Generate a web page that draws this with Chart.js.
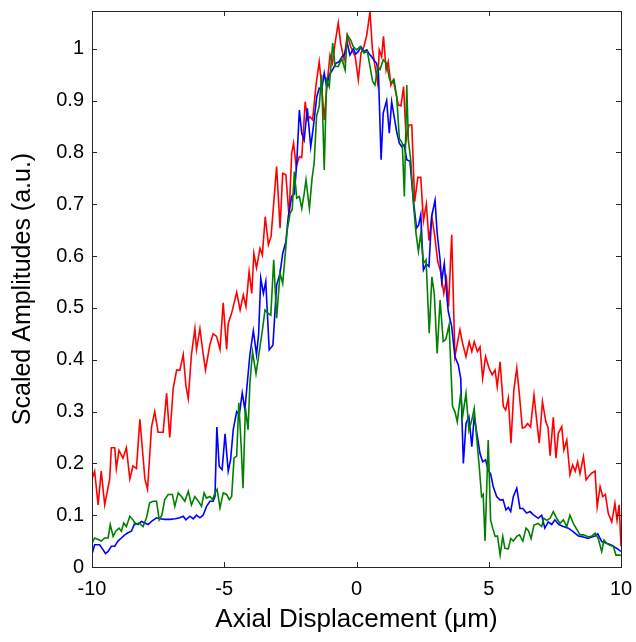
<!DOCTYPE html>
<html>
<head>
<meta charset="utf-8">
<script src="https://cdn.jsdelivr.net/npm/chart.js@4"></script>
<style>
  html, body { margin: 0; padding: 0; background: #fff; }
  #wrap { width: 636px; height: 642px; }
</style>
</head>
<body>
<div id="wrap"><canvas id="chart"></canvas></div>
<script>
var xTicks = [-10, -5, 0, 5, 10];
var xTickLabels = ["-10", "-5", "0", "5", "10"];
var yTicks = [0, 0.1, 0.2, 0.3, 0.4, 0.5, 0.6, 0.7, 0.8, 0.9, 1];
var yTickLabels = ["0", "0.1", "0.2", "0.3", "0.4", "0.5", "0.6", "0.7", "0.8", "0.9", "1"];

var redX = [-10, -9.9, -9.77, -9.65, -9.52, -9.33, -9.27, -9.14, -9.08, -8.98, -8.83, -8.7, -8.57, -8.45, -8.32, -8.19, -8.0, -7.9,
  -7.75, -7.63, -7.5, -7.31, -7.18, -7.06, -6.93, -6.8, -6.68, -6.55, -6.45, -6.36, -6.24, -6.11, -6.05, -5.92, -5.82, -5.71,
  -5.54, -5.42, -5.29, -5.16, -5.04, -4.91, -4.85, -4.72, -4.53, -4.4, -4.28, -4.18, -4.06, -3.96, -3.88, -3.78, -3.65, -3.56,
  -3.45, -3.33, -3.23, -3.02, -2.89, -2.79, -2.67, -2.55, -2.45, -2.38, -2.28, -2.16, -2.07, -1.94, -1.85, -1.76, -1.66, -1.53,
  -1.41, -1.32, -1.22, -1.11, -1.0, -0.91, -0.81, -0.69, -0.6, -0.47, -0.35, -0.22, -0.05, 0.07, 0.17, 0.28, 0.39, 0.51, 0.6,
  0.7, 0.8, 0.86, 0.95, 1.02, 1.12, 1.2, 1.3, 1.39, 1.49, 1.58, 1.68, 1.78, 1.88, 1.98, 2.09, 2.2, 2.32, 2.43, 2.53, 2.64, 2.74,
  2.85, 2.96, 3.07, 3.18, 3.3, 3.4, 3.48, 3.6, 3.72, 3.91, 4.01, 4.14, 4.26, 4.36, 4.45, 4.57, 4.67, 4.77, 4.88, 5.01, 5.13,
  5.24, 5.32, 5.43, 5.55, 5.64, 5.74, 5.84, 5.95, 6.06, 6.16, 6.27, 6.37, 6.47, 6.58, 6.71, 6.81, 6.91, 7.03, 7.16, 7.24, 7.32,
  7.44, 7.54, 7.63, 7.76, 7.84, 7.95, 8.07, 8.17, 8.27, 8.36, 8.45, 8.58, 8.68, 8.78, 8.89, 9.02, 9.1, 9.21, 9.31, 9.41, 9.52,
  9.65, 9.77, 9.85, 9.93, 10];
var redY = [0.17, 0.185, 0.12, 0.185, 0.12, 0.17, 0.23, 0.23, 0.19, 0.225, 0.21, 0.23, 0.17, 0.195, 0.19, 0.285, 0.17, 0.15,
  0.27, 0.3, 0.26, 0.26, 0.335, 0.25, 0.345, 0.38, 0.38, 0.41, 0.35, 0.325, 0.41, 0.46, 0.42, 0.46, 0.42, 0.38,
  0.43, 0.45, 0.445, 0.42, 0.51, 0.42, 0.47, 0.49, 0.53, 0.496, 0.525, 0.503, 0.57, 0.528, 0.605, 0.577, 0.615, 0.602,
  0.676, 0.622, 0.638, 0.773, 0.654, 0.76, 0.757, 0.676, 0.799, 0.818, 0.773, 0.792, 0.79, 0.898, 0.863, 0.869, 0.863, 0.93,
  0.975, 0.93, 0.863, 0.934, 0.988, 0.972, 1.011, 1.05, 1.011, 0.979, 1.027, 1.004, 0.985, 0.94, 0.992, 1.004, 1.027, 1.072, 1.0,
  0.966, 0.934, 0.998, 0.985, 1.024, 0.959, 0.975, 0.93, 0.94, 0.914, 0.892, 0.89, 0.927, 0.824, 0.853, 0.853, 0.705, 0.752, 0.752, 0.668, 0.7, 0.63,
  0.675, 0.638, 0.59, 0.57, 0.528, 0.556, 0.503, 0.641, 0.406, 0.458, 0.432, 0.406, 0.435, 0.416, 0.435, 0.416, 0.425, 0.364, 0.406, 0.384, 0.371,
  0.38, 0.348, 0.396, 0.31, 0.303, 0.326, 0.239, 0.342, 0.384, 0.332, 0.268, 0.27, 0.277, 0.27, 0.332, 0.284, 0.239, 0.319, 0.28, 0.27, 0.215,
  0.289, 0.21, 0.258, 0.271, 0.226, 0.245, 0.178, 0.197, 0.185, 0.203, 0.18, 0.213, 0.168, 0.175, 0.181, 0.185, 0.116, 0.155, 0.136, 0.14, 0.103,
  0.087, 0.123, 0.09, 0.12, 0.04];

var blueX = [-10, -9.9, -9.71, -9.58, -9.49, -9.39, -9.27, -9.14, -9.02, -8.89, -8.76, -8.64, -8.51, -8.38, -8.26, -8.13, -8.0, -7.88,
  -7.75, -7.56, -7.44, -7.25, -7.05, -6.85, -6.68, -6.55, -6.45, -6.3, -6.17, -6.05, -5.92, -5.8, -5.67, -5.54, -5.42, -5.35,
  -5.28, -5.19, -5.08, -4.97, -4.85, -4.76, -4.66, -4.53, -4.43, -4.32, -4.22, -4.12, -4.03, -3.9, -3.78, -3.7, -3.62, -3.52,
  -3.43, -3.3, -3.16, -3.02, -2.89, -2.79, -2.67, -2.58, -2.45, -2.35, -2.26, -2.16, -2.07, -1.98, -1.86, -1.73, -1.63, -1.5,
  -1.41, -1.32, -1.22, -1.13, -1.03, -0.9, -0.78, -0.66, -0.54, -0.45, -0.35, -0.25, -0.12, -0.03, 0.07, 0.17, 0.28, 0.39, 0.48,
  0.57, 0.66, 0.76, 0.83, 0.93, 1.01, 1.14, 1.24, 1.33, 1.42, 1.52, 1.62, 1.71, 1.8, 1.9, 2.02, 2.15, 2.27, 2.35, 2.43, 2.53,
  2.64, 2.74, 2.84, 2.97, 3.05, 3.16, 3.22, 3.32, 3.42, 3.47, 3.6, 3.72, 3.85, 3.94, 4.04, 4.14, 4.25, 4.36, 4.45, 4.57, 4.67,
  4.77, 4.88, 4.98, 5.07, 5.17, 5.3, 5.43, 5.54, 5.65, 5.74, 5.83, 5.93, 6.06, 6.18, 6.29, 6.43, 6.56, 6.68, 6.87, 7.0, 7.12,
  7.25, 7.38, 7.5, 7.65, 7.82, 8.01, 8.2, 8.39, 8.58, 8.75, 8.89, 9.02, 9.12, 9.27, 9.46, 9.65, 9.84, 10];
var blueY = [0.025, 0.043, 0.043, 0.033, 0.026, 0.03, 0.04, 0.04, 0.05, 0.056, 0.062, 0.066, 0.069, 0.085, 0.082, 0.088, 0.085, 0.082,
  0.088, 0.095, 0.093, 0.092, 0.092, 0.093, 0.095, 0.098, 0.091, 0.098, 0.093, 0.1, 0.095, 0.1, 0.117, 0.127, 0.127, 0.136,
  0.27, 0.194, 0.188, 0.257, 0.185, 0.207, 0.265, 0.3, 0.294, 0.336, 0.304, 0.36, 0.41, 0.456, 0.41, 0.45, 0.557, 0.528,
  0.551, 0.419, 0.428, 0.544, 0.567, 0.605, 0.628, 0.676, 0.715, 0.72, 0.779, 0.882, 0.837, 0.824, 0.885, 0.811, 0.85, 0.908,
  0.924, 0.92, 0.953, 0.927, 0.95, 0.96, 0.972, 0.975, 0.985, 0.99, 1.011, 0.988, 1.0, 0.99, 0.995, 1.004, 0.995, 0.998, 0.99,
  0.985, 0.978, 0.972, 0.953, 0.786, 0.876, 0.9, 0.837, 0.898, 0.87, 0.84, 0.818, 0.811, 0.815, 0.786, 0.783, 0.708, 0.654, 0.66, 0.68, 0.573,
  0.585, 0.58, 0.676, 0.708, 0.644, 0.593, 0.551, 0.586, 0.52, 0.493, 0.464, 0.406, 0.39, 0.364, 0.2, 0.277, 0.29, 0.232, 0.29, 0.252, 0.219,
  0.203, 0.207, 0.187, 0.18, 0.155, 0.136, 0.129, 0.13, 0.11, 0.115, 0.107, 0.136, 0.152, 0.113, 0.113, 0.104, 0.107, 0.101, 0.094, 0.1, 0.075,
  0.087, 0.082, 0.091, 0.082, 0.078, 0.075, 0.068, 0.06, 0.058, 0.055, 0.058, 0.06, 0.064, 0.049, 0.046, 0.042, 0.036, 0.03];

var greenX = [-10, -9.9, -9.77, -9.65, -9.52, -9.39, -9.31, -9.2, -9.1, -8.98, -8.89, -8.8, -8.7, -8.57, -8.45, -8.35, -8.22, -8.07,
  -7.94, -7.82, -7.69, -7.56, -7.46, -7.36, -7.25, -7.12, -6.96, -6.87, -6.74, -6.62, -6.49, -6.36, -6.24, -6.11, -5.98, -5.86,
  -5.76, -5.67, -5.54, -5.44, -5.35, -5.27, -5.16, -5.04, -4.91, -4.81, -4.72, -4.63, -4.53, -4.45, -4.36, -4.29, -4.2, -4.1,
  -4.03, -3.93, -3.8, -3.65, -3.55, -3.46, -3.35, -3.24, -3.13, -3.02, -2.89, -2.79, -2.7, -2.62, -2.51, -2.43, -2.35, -2.26,
  -2.16, -2.07, -1.98, -1.91, -1.78, -1.68, -1.6, -1.51, -1.41, -1.32, -1.22, -1.13, -1.03, -0.9, -0.81, -0.69, -0.56, -0.43,
  -0.35, -0.22, -0.12, 0.01, 0.13, 0.28, 0.41, 0.51, 0.61, 0.7, 0.8, 0.89, 1.01, 1.14, 1.24, 1.33, 1.42, 1.52, 1.62, 1.73, 1.81,
  1.9, 1.96, 2.05, 2.15, 2.25, 2.34, 2.43, 2.53, 2.63, 2.75, 2.85, 2.94, 3.05, 3.16, 3.28, 3.38, 3.5, 3.63, 3.72, 3.81, 3.94,
  4.01, 4.14, 4.25, 4.36, 4.45, 4.54, 4.64, 4.73, 4.79, 4.86, 4.98, 5.07, 5.15, 5.24, 5.33, 5.43, 5.53, 5.61, 5.74, 5.83, 5.93,
  6.06, 6.16, 6.29, 6.41, 6.5, 6.6, 6.71, 6.87, 7.0, 7.08, 7.2, 7.32, 7.44, 7.57, 7.69, 7.82, 7.95, 8.07, 8.2, 8.3, 8.45, 8.58,
  8.77, 8.9, 9.02, 9.14, 9.27, 9.36, 9.47, 9.58, 9.71, 9.81, 10];
var greenY = [0.046, 0.056, 0.053, 0.05, 0.056, 0.056, 0.082, 0.059, 0.069, 0.075, 0.069, 0.085, 0.078, 0.098, 0.091, 0.082, 0.085, 0.078,
  0.095, 0.124, 0.127, 0.127, 0.091, 0.1, 0.13, 0.14, 0.14, 0.117, 0.143, 0.136, 0.127, 0.146, 0.12, 0.136, 0.127, 0.117,
  0.143, 0.133, 0.136, 0.13, 0.143, 0.15, 0.114, 0.143, 0.14, 0.13, 0.136, 0.21, 0.214, 0.317, 0.233, 0.152, 0.307, 0.265,
  0.355, 0.415, 0.373, 0.425, 0.46, 0.496, 0.49, 0.486, 0.593, 0.48, 0.567, 0.547, 0.6, 0.65, 0.683, 0.69, 0.763, 0.712,
  0.715, 0.692, 0.72, 0.747, 0.692, 0.75, 0.78, 0.87, 0.889, 0.95, 0.766, 0.94, 0.927, 1.011, 0.966, 0.966, 0.981, 0.959,
  1.027, 1.017, 1.004, 0.998, 1.004, 0.992, 0.995, 0.966, 0.937, 0.93, 0.966, 0.96, 0.979, 0.972, 0.943, 0.934, 0.94, 0.908, 0.827, 0.818, 0.715,
  0.93, 0.824, 0.786, 0.702, 0.644, 0.609, 0.644, 0.586, 0.593, 0.451, 0.56, 0.528, 0.412, 0.515, 0.435, 0.44, 0.467, 0.31, 0.3, 0.28, 0.335,
  0.29, 0.335, 0.264, 0.284, 0.306, 0.252, 0.194, 0.136, 0.14, 0.05, 0.245, 0.091, 0.075, 0.059, 0.06, 0.023, 0.059, 0.036, 0.035, 0.055, 0.05,
  0.059, 0.062, 0.05, 0.075, 0.07, 0.055, 0.081, 0.084, 0.078, 0.094, 0.09, 0.094, 0.107, 0.094, 0.084, 0.091, 0.078, 0.1, 0.084, 0.075, 0.062, 0.062,
  0.058, 0.06, 0.065, 0.055, 0.03, 0.052, 0.045, 0.042, 0.04, 0.023, 0.023];

function toPoints(xs, ys) {
  return xs.map(function (x, i) {
    return { x: x, y: ys[i] };
  });
}

var axisColor = "#262626";

// box round the plot with matlab style inward ticks
var boxPlugin = {
  id: "box",
  afterDraw: function (chart) {
    var ctx = chart.ctx;
    var a = chart.chartArea;
    var xs = chart.scales.x;
    var ys = chart.scales.y;
    ctx.save();
    ctx.strokeStyle = axisColor;
    ctx.lineWidth = 1;
    ctx.strokeRect(Math.round(a.left) + 0.5, Math.round(a.top) + 0.5,
      Math.round(a.right - a.left), Math.round(a.bottom - a.top));
    ctx.beginPath();
    xTicks.forEach(function (v) {
      var px = Math.round(xs.getPixelForValue(v)) + 0.5;
      ctx.moveTo(px, a.bottom);
      ctx.lineTo(px, a.bottom - 5);
      ctx.moveTo(px, a.top);
      ctx.lineTo(px, a.top + 5);
    });
    yTicks.forEach(function (v) {
      var py = Math.round(ys.getPixelForValue(v)) + 0.5;
      ctx.moveTo(a.left, py);
      ctx.lineTo(a.left + 5, py);
      ctx.moveTo(a.right, py);
      ctx.lineTo(a.right - 5, py);
    });
    ctx.stroke();
    ctx.restore();
  },
};

var font = "'Liberation Sans', Arial, sans-serif";

new Chart("chart", {
  type: "line",
  plugins: [boxPlugin],
  data: {
    datasets: [
      {
        label: "red",
        data: toPoints(redX, redY),
        borderColor: "rgb(255, 0, 0)",
        borderWidth: 1.6,
        pointRadius: 0,
        fill: false,
        tension: 0,
        order: 3,
      },
      {
        label: "blue",
        data: toPoints(blueX, blueY),
        borderColor: "rgb(0, 0, 255)",
        borderWidth: 1.6,
        pointRadius: 0,
        fill: false,
        tension: 0,
        order: 2,
      },
      {
        label: "green",
        data: toPoints(greenX, greenY),
        borderColor: "rgb(0, 128, 0)",
        borderWidth: 1.6,
        pointRadius: 0,
        fill: false,
        tension: 0,
        order: 1,
      },
    ],
  },
  options: {
    responsive: true,
    maintainAspectRatio: false,
    animation: false,
    events: [],
    layout: { padding: { left: 0, right: 15, top: 11, bottom: 0 } },
    plugins: {
      legend: { display: false },
      tooltip: { enabled: false },
    },
    scales: {
      x: {
        type: "linear",
        min: -10,
        max: 10,
        afterBuildTicks: function (scale) {
          scale.ticks = xTicks.map(function (v) { return { value: v }; });
        },
        afterFit: function (scale) {
          scale.height = 75;
          scale.paddingLeft = 0;
          scale.paddingRight = 0;
        },
        grid: { display: false, drawTicks: false },
        border: { display: false },
        ticks: {
          padding: 10,
          color: "#000",
          maxRotation: 0,
          font: { family: font, size: 20 },
          callback: function (v) {
            return xTickLabels[xTicks.indexOf(v)];
          },
        },
        title: {
          display: true,
          text: "Axial Displacement (\u03bcm)",
          color: "#000",
          font: { family: font, size: 26 },
          padding: { top: 0, bottom: 7 },
        },
      },
      y: {
        type: "linear",
        min: 0,
        max: 1.073,
        afterBuildTicks: function (scale) {
          scale.ticks = yTicks.map(function (v) { return { value: v }; });
        },
        afterFit: function (scale) {
          scale.width = 92;
          scale.paddingTop = 0;
          scale.paddingBottom = 0;
        },
        grid: { display: false, drawTicks: false },
        border: { display: false },
        ticks: {
          padding: 8,
          color: "#000",
          font: { family: font, size: 20 },
          callback: function (v) {
            return yTickLabels[yTicks.indexOf(v)];
          },
        },
        title: {
          display: true,
          text: "Scaled Amplitudes (a.u.)",
          color: "#000",
          font: { family: font, size: 25 },
          padding: { top: 8, bottom: 0 },
        },
      },
    },
  },
});
</script>
</body>
</html>
